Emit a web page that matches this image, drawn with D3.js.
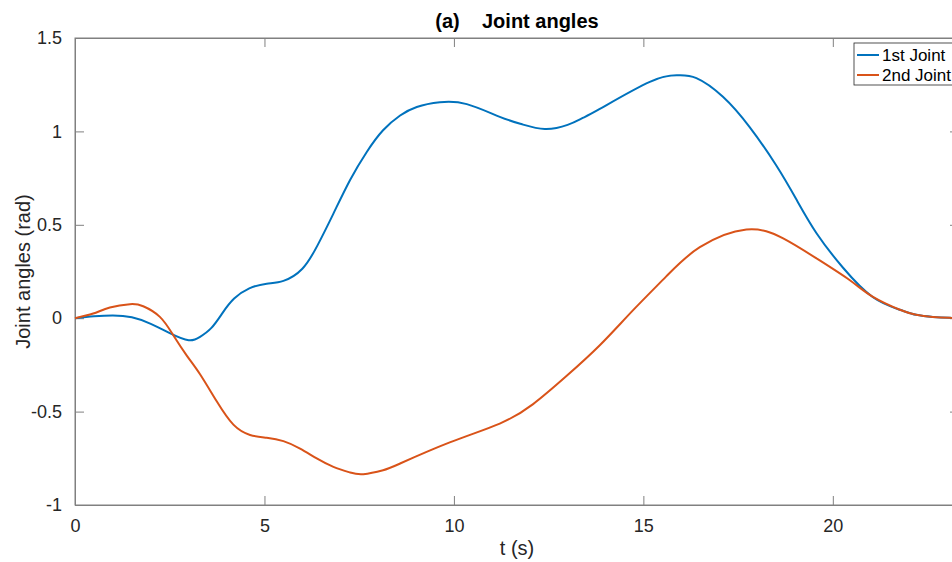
<!DOCTYPE html>
<html>
<head>
<meta charset="utf-8">
<script src="https://cdnjs.cloudflare.com/ajax/libs/d3/7.8.5/d3.min.js"></script>
<style>
  body { margin: 0; background: #fff; }
  svg { display: block; font-family: "Liberation Sans", Arial, sans-serif; }
</style>
</head>
<body>
<div id="chart"></div>
<script>
// 1st joint samples (time, angle)
var joint1T = [0, 0.5, 1, 1.5, 2, 2.5, 3, 3.3, 3.6, 3.9, 4.2, 4.6, 5.06, 5.5, 6.0, 6.4, 6.82, 7.26, 7.7, 8.13, 8.58, 9.02, 9.63, 10.34, 11.21, 11.8, 12.4, 13.0, 13.4, 13.85, 15.17, 15.9, 16.4, 17.1, 17.8, 18.5, 19.04, 19.57, 20.27, 21.06, 21.77, 22.2, 22.64, 23.09, 23.4];
var joint1 = [0, 0.01, 0.015, 0.005, -0.03, -0.08, -0.118, -0.1, -0.052, 0.03, 0.105, 0.16, 0.185, 0.2, 0.265, 0.39, 0.56, 0.74, 0.89, 1.006, 1.085, 1.131, 1.156, 1.146, 1.078, 1.038, 1.013, 1.035, 1.072, 1.12, 1.265, 1.30, 1.285, 1.185, 1.024, 0.82, 0.635, 0.455, 0.27, 0.112, 0.045, 0.018, 0.007, 0.002, 0];

// 2nd joint samples
var joint2T = [0, 0.48, 0.92, 1.45, 1.8, 2.24, 2.59, 2.95, 3.3, 3.74, 4.18, 4.62, 5.06, 5.5, 5.94, 6.38, 6.82, 7.26, 7.61, 8.13, 8.58, 9.89, 11.21, 12.09, 12.97, 13.85, 14.73, 15.61, 16.49, 17.72, 18.69, 19.57, 20.45, 21.06, 21.77, 22.2, 22.64, 23.09, 23.4];
var joint2 = [0, 0.025, 0.057, 0.075, 0.064, 0.007, -0.09, -0.2, -0.3, -0.445, -0.57, -0.625, -0.64, -0.658, -0.698, -0.751, -0.796, -0.826, -0.835, -0.814, -0.778, -0.665, -0.564, -0.46, -0.31, -0.145, 0.043, 0.225, 0.38, 0.475, 0.427, 0.32, 0.203, 0.114, 0.045, 0.018, 0.007, 0.002, 0];

var seriesNames = ["1st Joint", "2nd Joint"];
var seriesColors = ["#0072BD", "#D95319"];
var xTicks = [0, 5, 10, 15, 20];
var yTicks = [-1, -0.5, 0, 0.5, 1, 1.5];

var W = 952, H = 562;
var plot = {x0: 75, x1: 959, y0: 38, y1: 505};

var svg = d3.select("#chart").append("svg")
    .attr("width", W)
    .attr("height", H);

var xScale = d3.scaleLinear().domain([0, 23.33]).range([plot.x0, plot.x1]);
var yScale = d3.scaleLinear().domain([-1, 1.5]).range([plot.y1, plot.y0]);

var axisColor = "#808080", textColor = "#262626";

// box
svg.append("rect")
    .attr("x", plot.x0).attr("y", plot.y0)
    .attr("width", plot.x1 - plot.x0).attr("height", plot.y1 - plot.y0)
    .attr("fill", "none").attr("stroke", axisColor).attr("stroke-width", 1);

// axes (ticks pointing inward)
var xAxis = d3.axisBottom(xScale).tickValues(xTicks).tickSize(-9).tickPadding(14).tickFormat(d3.format("d"));
var gx = svg.append("g").attr("transform", "translate(0," + plot.y1 + ")").call(xAxis);

var xTop = d3.axisTop(xScale).tickValues(xTicks).tickSize(-9).tickFormat("");
var gxt = svg.append("g").attr("transform", "translate(0," + plot.y0 + ")").call(xTop);

var yAxis = d3.axisLeft(yScale).tickValues(yTicks).tickSize(-9).tickPadding(13).tickFormat(function(d){ return String(d); });
var gy = svg.append("g").attr("transform", "translate(" + plot.x0 + ",0)").call(yAxis);

var yRight = d3.axisRight(yScale).tickValues(yTicks).tickSize(-9).tickFormat("");
var gyr = svg.append("g").attr("transform", "translate(" + plot.x1 + ",0)").call(yRight);

[gx, gxt, gy, gyr].forEach(function(g){
  g.select(".domain").attr("stroke", axisColor);
  g.selectAll(".tick line").attr("stroke", axisColor);
  g.selectAll("text").attr("fill", textColor)
    .style("font-size", "18px")
    .style("font-family", "'Liberation Sans', Arial, sans-serif");
});

// lines
var line = d3.line()
    .x(function(d){ return xScale(d[0]); })
    .y(function(d){ return yScale(d[1]); })
    .curve(d3.curveNatural);

var allT = [joint1T, joint2T], allV = [joint1, joint2];
for (var s = 0; s < 2; s++) {
  var pts = allT[s].map(function(t, i){ return [t, allV[s][i]]; });
  svg.append("path")
    .datum(pts)
    .attr("d", line)
    .attr("fill", "none")
    .attr("stroke", seriesColors[s])
    .attr("stroke-width", 2);
}

// title
svg.append("text")
    .attr("x", (plot.x0 + plot.x1) / 2)
    .attr("y", 28)
    .attr("text-anchor", "middle")
    .attr("fill", "#000")
    .style("font-size", "20px")
    .style("font-weight", "bold")
    .style("white-space", "pre")
    .text("(a)    Joint angles");

// axis labels
svg.append("text")
    .attr("x", (plot.x0 + plot.x1) / 2)
    .attr("y", 555)
    .attr("text-anchor", "middle")
    .attr("fill", textColor)
    .style("font-size", "20px")
    .text("t (s)");

svg.append("text")
    .attr("transform", "translate(30," + ((plot.y0 + plot.y1) / 2) + ") rotate(-90)")
    .attr("text-anchor", "middle")
    .attr("fill", textColor)
    .style("font-size", "20px")
    .text("Joint angles (rad)");

// legend
var lg = svg.append("g");
lg.append("rect")
    .attr("x", 854).attr("y", 43)
    .attr("width", 104).attr("height", 42)
    .attr("fill", "#fff").attr("stroke", "#262626").attr("stroke-width", 0.8);
seriesNames.forEach(function(name, i){
  var yy = 55 + i * 20;
  lg.append("line")
    .attr("x1", 857).attr("x2", 879)
    .attr("y1", yy).attr("y2", yy)
    .attr("stroke", seriesColors[i]).attr("stroke-width", 2);
  lg.append("text")
    .attr("x", 882).attr("y", yy + 6)
    .attr("fill", "#000")
    .style("font-size", "17px")
    .text(name);
});
</script>
</body>
</html>
